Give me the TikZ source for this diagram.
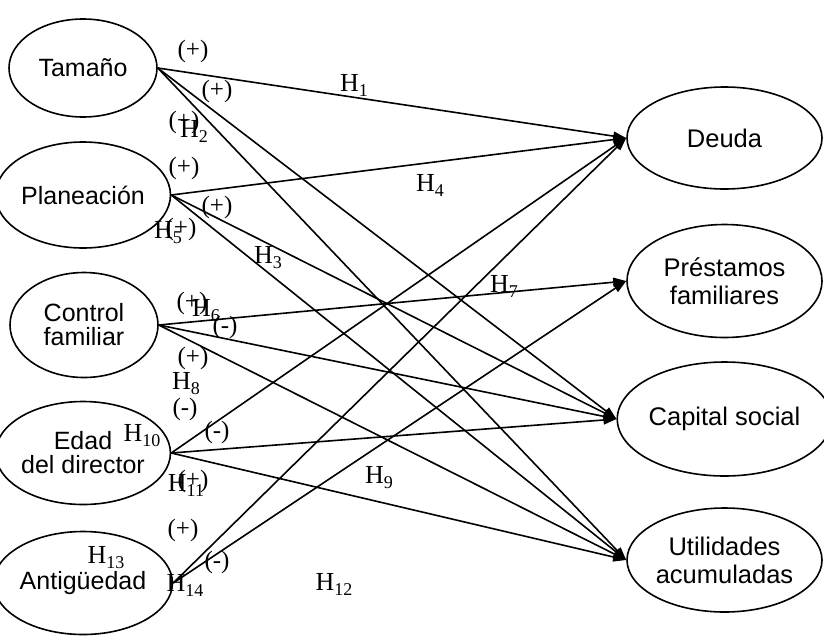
\documentclass[tikz,border=0pt]{standalone}
\usepackage{fontspec}
\setmainfont{Liberation Serif}
\setsansfont{Liberation Sans}
\usetikzlibrary{arrows.meta,shapes.geometric}
\newcommand{\Hlab}[1]{H\raisebox{-5pt}{\fontsize{18}{18}\selectfont #1}}
\begin{document}
\begin{tikzpicture}[x=1pt,y=-1pt,
  var/.style={ellipse,draw,line width=1.6pt,inner sep=0pt,align=center},
  lvar/.style={var,minimum width=148pt,font=\fontsize{25}{24}\sffamily},
  rvar/.style={var,minimum width=195pt,font=\fontsize{25.5}{28}\sffamily},
  hyp/.style={line width=1.6pt,-{Triangle[length=13pt,width=9pt]}},
  lab/.style={font=\fontsize{25}{25}\selectfont,inner sep=0pt},
  hlab/.style={font=\fontsize{26}{26}\selectfont,inner sep=0pt}]
\useasboundingbox (0,0) rectangle (824,635);
% left variables
\node[lvar,minimum height=98pt]  (t) at (83,68)  {Tamaño};
\node[lvar,minimum height=106pt] (p) at (83,195) {Planeación};
\node[lvar,minimum height=105pt] (c) at (84,325) {Control\\familiar};
\node[lvar,minimum height=103pt] (e) at (83,453) {Edad\\del director};
\node[lvar,minimum height=103pt] (a) at (83,583) {Antigüedad};
% right variables
\node[rvar,minimum height=102pt] (d)  at (724.5,138) {Deuda};
\node[rvar,minimum height=113pt] (pf) at (724.5,281) {Préstamos\\familiares};
\node[rvar,minimum height=114pt] (cs) at (724.5,419) {Capital social};
\node[rvar,minimum height=104pt] (ua) at (724.5,560) {Utilidades\\acumuladas};
% hypotheses
\draw[hyp] (t.east) -- (d.west);
\draw[hyp] (t.east) -- (cs.west);
\draw[hyp] (t.east) -- (ua.west);
\draw[hyp] (p.east) -- (d.west);
\draw[hyp] (p.east) -- (cs.west);
\draw[hyp] (p.east) -- (ua.west);
\draw[hyp] (c.east) -- (pf.west);
\draw[hyp] (c.east) -- (cs.west);
\draw[hyp] (c.east) -- (ua.west);
\draw[hyp] (e.east) -- (d.west);
\draw[hyp] (e.east) -- (cs.west);
\draw[hyp] (e.east) -- (ua.west);
\draw[hyp] (a.east) -- (d.west);
\draw[hyp] (a.east) -- (pf.west);
% signs
\node[lab] (s1)  at (193,51)  {(+)};
\node[lab] (s2)  at (217,91)  {(+)};
\node[lab] (s3)  at (184,122) {(+)};
\node[lab] (s4)  at (184,168) {(+)};
\node[lab] (s5)  at (217,207) {(+)};
\node[lab] (s6)  at (181,229) {(+)};
\node[lab] (s7)  at (192,303) {(+)};
\node[lab] (s8)  at (225,327) {(-)};
\node[lab] (s9)  at (193,358) {(+)};
\node[lab] (s10) at (185,409) {(-)};
\node[lab] (s11) at (217,432) {(-)};
\node[lab] (s12) at (193,481) {(+)};
\node[lab] (s13) at (183,530) {(+)};
\node[lab] (s14) at (217,562) {(-)};
% hypothesis labels
\node[hlab] (h1)  at (354,85)  {\Hlab{1}};
\node[hlab] (h2)  at (194,131) {\Hlab{2}};
\node[hlab] (h3)  at (268,258) {\Hlab{3}};
\node[hlab] (h4)  at (430,185) {\Hlab{4}};
\node[hlab] (h5)  at (168,233) {\Hlab{5}};
\node[hlab] (h6)  at (206,311) {\Hlab{6}};
\node[hlab] (h7)  at (504,286) {\Hlab{7}};
\node[hlab] (h8)  at (186,384) {\Hlab{8}};
\node[hlab] (h9)  at (379,478) {\Hlab{9}};
\node[hlab] (h10) at (142,436) {\Hlab{10}};
\node[hlab] (h11) at (186,485) {\Hlab{11}};
\node[hlab] (h12) at (334,584) {\Hlab{12}};
\node[hlab] (h13) at (106,558) {\Hlab{13}};
\node[hlab] (h14) at (185,585) {\Hlab{14}};
\end{tikzpicture}
\end{document}
